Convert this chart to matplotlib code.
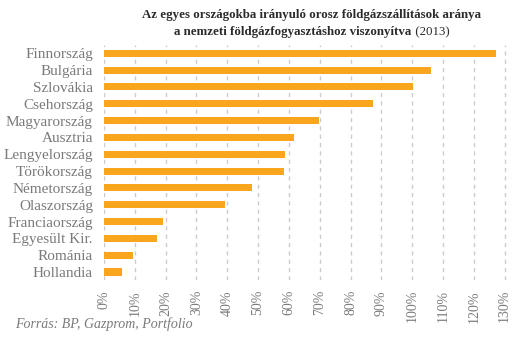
"""
Orosz földgázszállítások aránya a nemzeti fogyasztáshoz (2013) - vízszintes oszlopdiagram
"""

import matplotlib
matplotlib.use('Agg')
import matplotlib.pyplot as plt

# Adatok (fentről lefelé)
countries = ['Finnország', 'Bulgária', 'Szlovákia', 'Csehország', 'Magyarország',
             'Ausztria', 'Lengyelország', 'Törökország', 'Németország', 'Olaszország',
             'Franciaország', 'Egyesült Kir.', 'Románia', 'Hollandia']
shares = [127.3, 106.2, 100.3, 87.3, 69.8, 61.7, 58.8, 58.4, 48.0, 39.3,
          19.2, 17.2, 9.4, 5.8]
x_ticks = list(range(0, 140, 10))

BAR_COLOR = '#F9A61E'
LABEL_COLOR = '#7a7a7a'
TITLE_COLOR = '#2b2b2b'
FONT = 'Liberation Serif'

plt.rcParams['font.family'] = FONT

fig = plt.figure(figsize=(5.29, 3.40), dpi=100)
ax = fig.add_axes([104 / 529, 1 - 280.4 / 340, (520 - 104) / 529, (280.4 - 44.9) / 340])

y_pos = list(range(len(countries)))
ax.barh(y_pos, shares, height=0.42, color=BAR_COLOR, zorder=3)

ax.set_ylim(len(countries) - 0.5, -0.5)
ax.set_xlim(0, 135)
ax.set_yticks(y_pos)
ax.set_yticklabels(countries, fontsize=11, color=LABEL_COLOR)
ax.set_xticks(x_ticks)
ax.set_xticklabels([f'{t}%' for t in x_ticks], rotation=90, fontsize=10,
                   color=LABEL_COLOR)
ax.tick_params(axis='y', length=0, pad=8)
ax.tick_params(axis='x', length=0, pad=7)

for s in ax.spines.values():
    s.set_visible(False)
ax.xaxis.grid(True, linestyle=(0, (3, 3)), color='#cccccc', linewidth=1, zorder=0)
ax.set_axisbelow(True)

# Cím - két sor, a második sor végén normál betűs évszám
cx = (104 + 520) / 2 / 529
fig.text(cx, 1 - 15 / 340, 'Az egyes országokba irányuló orosz földgázszállítások aránya',
         ha='center', va='center', fontsize=9.3, fontweight='bold', color=TITLE_COLOR)
t_bold = fig.text(cx, 1 - 32 / 340, 'a nemzeti földgázfogyasztáshoz viszonyítva',
                  ha='left', va='center', fontsize=9.3, fontweight='bold', color=TITLE_COLOR)
t_norm = fig.text(cx, 1 - 32 / 340, ' (2013)',
                  ha='left', va='center', fontsize=9.3, color=TITLE_COLOR)
fig.canvas.draw()
r = fig.canvas.get_renderer()
w_bold = t_bold.get_window_extent(r).width / fig.bbox.width
w_norm = t_norm.get_window_extent(r).width / fig.bbox.width
start = cx - (w_bold + w_norm) / 2
t_bold.set_x(start)
t_norm.set_x(start + w_bold)

# Forrás
fig.text(15 / 529, 1 - 324 / 340, 'Forrás: BP, Gazprom, Portfolio',
         ha='left', va='center', fontsize=10, style='italic', color=LABEL_COLOR)

plt.savefig('out.png', dpi=100, facecolor='white')
plt.close()
